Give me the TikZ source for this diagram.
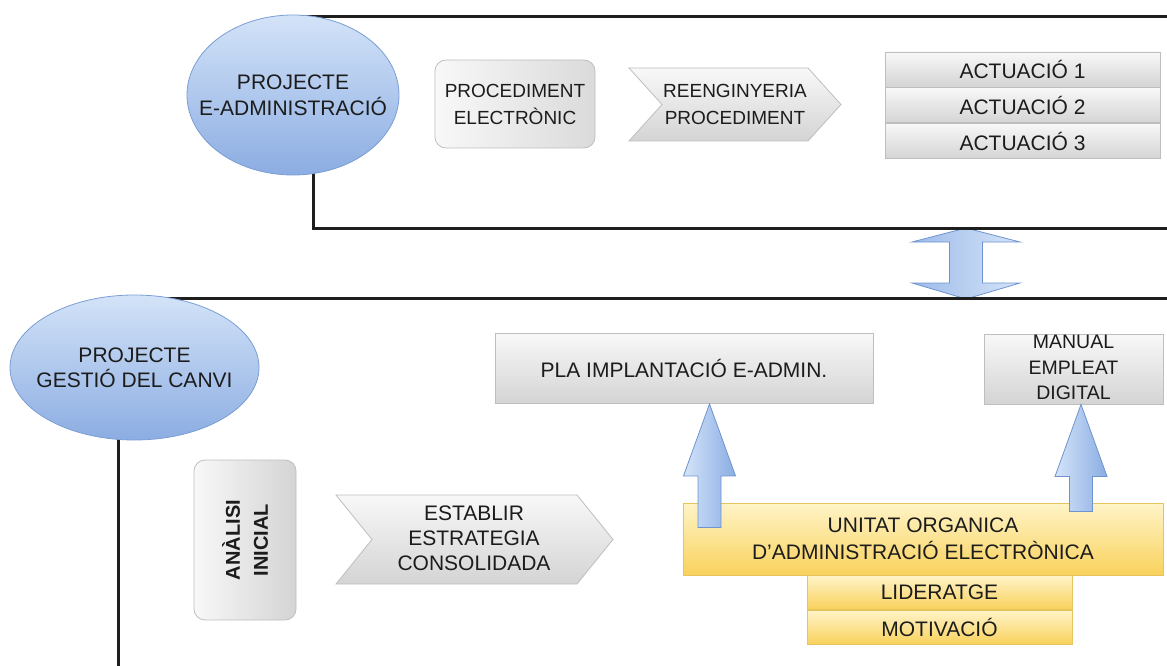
\documentclass[tikz,border=0pt]{standalone}
\usepackage{fontspec}
\setmainfont{Liberation Sans}
\usetikzlibrary{calc,shapes.geometric,backgrounds}

\definecolor{lineblack}{HTML}{1E1E1E}
\definecolor{elltop}{HTML}{D3E3F8}
\definecolor{ellbot}{HTML}{8CADE2}
\definecolor{ellline}{HTML}{7A9ED5}
\definecolor{graylight}{HTML}{F8F8F8}
\definecolor{graydark}{HTML}{D4D4D4}
\definecolor{grayline}{HTML}{BEBEBE}
\definecolor{yeltop}{HTML}{FFF4C8}
\definecolor{yelbot}{HTML}{F9D25C}
\definecolor{yelline}{HTML}{E8C45C}
\definecolor{arrlight}{HTML}{D5E4F9}
\definecolor{arrdark}{HTML}{8AADE3}
\definecolor{arrline}{HTML}{6E94CF}
\definecolor{textc}{HTML}{1C1C1C}

% upward block arrow: #1 = foot of the shaft, #2 = tip
\newcommand{\upblockarrow}[2]{%
  \path[blockarrow] ($(#1)+(-11.5,0)$) -- ($(#2)+(-11.5,72)$) -- ($(#2)+(-26,72)$)
    -- (#2) -- ($(#2)+(26,72)$) -- ($(#2)+(11.5,72)$) -- ($(#1)+(11.5,0)$) -- cycle;}

\begin{document}
\begin{tikzpicture}[x=1pt,y=-1pt,
  frame/.style={draw=lineblack, line width=3pt},
  project/.style={ellipse, draw=ellline, line width=0.8pt, top color=elltop,
    bottom color=ellbot, inner sep=0pt},
  graybox/.style={draw=grayline, line width=0.8pt, top color=graylight,
    bottom color=graydark, inner sep=0pt, align=center, text=textc,
    font=\fontsize{21}{26}\selectfont},
  softbox/.style={draw=grayline, line width=0.8pt, rounded corners=11pt,
    left color=graylight, right color=graydark, inner sep=0pt},
  chevron/.style={draw=grayline, line width=0.8pt, top color=graylight,
    bottom color=graydark},
  yellowbox/.style={draw=yelline, line width=0.8pt, top color=yeltop,
    bottom color=yelbot, inner sep=0pt, align=center, text=textc,
    font=\fontsize{21}{27}\selectfont},
  blockarrow/.style={draw=arrline, line width=0.8pt, left color=arrlight,
    right color=arrdark},
  txt/.style={align=center, text=textc, inner sep=0pt}
]
\useasboundingbox (0,0) rectangle (1167,666);

% ---------- upper section: e-administration project ----------
\node[project, minimum width=212pt, minimum height=160pt] (ea) at (293,95) {};
\node[txt, font=\fontsize{21}{26}\selectfont] (eatxt) at (ea.center)
  {PROJECTE\\E-ADMINISTRACIÓ};

\node[softbox, left color=graylight, right color=graydark!85, minimum width=160pt,
  minimum height=88pt] (proc) at (515,104) {};
\node[txt, font=\fontsize{19}{27}\selectfont] (proctxt) at (proc.center)
  {PROCEDIMENT\\ELECTRÒNIC};

\path[chevron] (629,68) -- (808,68) -- (841,104.5) -- (808,141) -- (629,141)
  -- (662,104.5) -- cycle;
\node[txt, font=\fontsize{19}{27}\selectfont] (reeng) at (735,104)
  {REENGINYERIA\\PROCEDIMENT};

\node[graybox, minimum width=275pt, minimum height=35pt] (act1) at (1022.5,69.5)
  {ACTUACIÓ 1};
\node[graybox, minimum width=275pt, minimum height=35pt, anchor=north] (act2)
  at (act1.south) {ACTUACIÓ 2};
\node[graybox, minimum width=275pt, minimum height=35pt, anchor=north] (act3)
  at (act2.south) {ACTUACIÓ 3};

% ---------- lower section: change management project ----------
\node[project, minimum width=249pt, minimum height=145pt] (eb) at (134.5,367.5) {};
\node[txt, font=\fontsize{21}{25}\selectfont] (ebtxt) at (eb.center)
  {PROJECTE\\GESTIÓ DEL CANVI};

\node[softbox, minimum width=102pt, minimum height=160pt] (anal) at (245,540) {};
\node[txt, rotate=90, font=\fontsize{20}{28}\bfseries\selectfont] (analtxt)
  at (anal.center) {ANÀLISI\\INICIAL};

\path[chevron] (336,495) -- (577,495) -- (613,539.5) -- (577,584) -- (336,584)
  -- (372,539.5) -- cycle;
\node[txt, font=\fontsize{21}{25}\selectfont] (estab) at (474,538)
  {ESTABLIR\\ESTRATEGIA\\CONSOLIDADA};

\node[graybox, minimum width=378pt, minimum height=70pt] (pla) at (684,368.5)
  {PLA IMPLANTACIÓ E-ADMIN.};
\node[graybox, minimum width=179pt, minimum height=70pt] (manual) at (1073.5,369) {};
\node[txt, font=\fontsize{19.5}{25.5}\selectfont] (manualtxt) at (1073.5,367.5)
  {MANUAL\\EMPLEAT\\DIGITAL};

\node[yellowbox, minimum width=480pt, minimum height=72pt] (uo) at (923,539)
  {UNITAT ORGANICA\\D'ADMINISTRACIÓ ELECTRÒNICA};
\node[yellowbox, minimum width=265pt, minimum height=34pt, anchor=north] (lid)
  at (939.5,575) {LIDERATGE};
\node[yellowbox, minimum width=265pt, minimum height=34pt, anchor=north] (mot)
  at (939.5,610) {MOTIVACIÓ};

% block arrows from the organic unit up to its outputs
\coordinate (a1foot) at (709.5,527.5);
\coordinate (a1tip) at (pla.south -| a1foot);
\upblockarrow{a1foot}{a1tip}
\coordinate (a2foot) at (1081,511.5);
\coordinate (a2tip) at (manual.south -| a2foot);
\upblockarrow{a2foot}{a2tip}

% ---------- frames and the link between both sections ----------
\coordinate (rt1) at (1167,17);
\coordinate (rb1) at (1167,228);
\coordinate (rt2) at (1167,298);
\coordinate (lb2) at (118,666);
\coordinate (dtop) at (966,228);
\coordinate (dbot) at (966,299);
\begin{scope}[on background layer]
  \path[draw=arrline, line width=0.8pt, left color=arrdark!75!arrlight,
    right color=arrlight]
    (dtop) -- ($(dtop)+(54,14)$) -- ($(dtop)+(16.5,14)$) -- ($(dbot)+(16.5,-16)$)
    -- ($(dbot)+(54,-16)$) -- (dbot) -- ($(dbot)+(-54,-16)$)
    -- ($(dbot)+(-16.5,-16)$) -- ($(dtop)+(-16.5,14)$) -- ($(dtop)+(-54,14)$) -- cycle;
  \draw[frame] (ea.center |- rt1) -- (rt1);
  \draw[frame] ([xshift=20pt]ea.center) |- (rb1);
  \draw[frame] (eb.center |- rt2) -- (rt2);
  \draw[frame] (eb.center -| lb2) -- (lb2);
\end{scope}
\end{tikzpicture}
\end{document}
